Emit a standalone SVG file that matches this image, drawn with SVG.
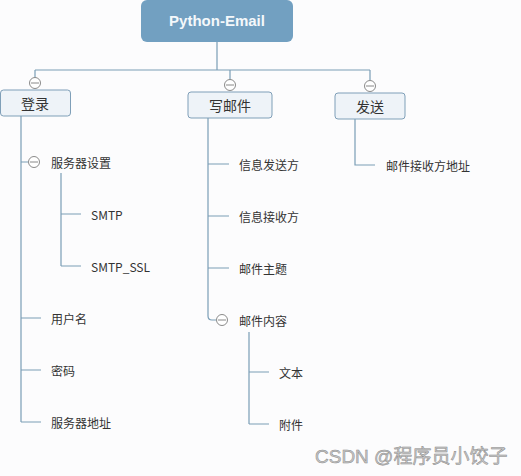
<svg xmlns="http://www.w3.org/2000/svg" width="521" height="476" viewBox="0 0 521 476">
<style>
.ln{fill:none;stroke:#7a9db6;stroke-width:1.2}
.cir{fill:#fff;stroke:#8a8a8a;stroke-width:1}
.box{fill:#eef3f8;stroke:#7f9fb8;stroke-width:1}
.t{font-family:"Noto Sans CJK SC","Liberation Sans",sans-serif;font-size:12px;fill:#333;dominant-baseline:central}
.tb{font-family:"Noto Sans CJK SC","Liberation Sans",sans-serif;font-size:14px;fill:#333;text-anchor:middle;dominant-baseline:central}
</style>
<rect width="521" height="476" fill="#fcfcfd"/>
<g id="connectors">
<path class="ln" d="M217 42V70M35 70H370M35 70V78M230 70V80M370 70V80"/>
<path class="ln" d="M21 116V422M21 162H28M21 318H41M21 370H41M21 422H41"/>
<path class="ln" d="M61 173V266M61 214H81M61 266H81"/>
<path class="ln" d="M208 118V316Q208 320 212 320H216M208 164H229M208 216H229M208 268H229"/>
<path class="ln" d="M249 332V424M249 372H269M249 424H269"/>
<path class="ln" d="M355 119V165H375"/>
</g>
<g id="root">
<rect x="141" y="0" width="152" height="42" rx="6" fill="#72a0c1"/>
<text x="217" y="20" font-family="Liberation Sans,sans-serif" font-size="15" font-weight="bold" fill="#f4f8fb" text-anchor="middle" dominant-baseline="central">Python-Email</text>
</g>
<g id="login">
<circle class="cir" cx="35" cy="83" r="5.5"/><path d="M31 83H39" stroke="#888" stroke-width="1"/>
<rect class="box" x="0.5" y="90" width="70" height="26" rx="3"/>
<text class="tb" x="35" y="103">登录</text>
</g>
<g id="write">
<circle class="cir" cx="230" cy="85" r="5.5"/><path d="M226 85H234" stroke="#888" stroke-width="1"/>
<rect class="box" x="188" y="92" width="84" height="26" rx="3"/>
<text class="tb" x="230" y="105">写邮件</text>
</g>
<g id="send">
<circle class="cir" cx="370" cy="86" r="5.5"/><path d="M366 86H374" stroke="#888" stroke-width="1"/>
<rect class="box" x="335" y="93" width="70" height="26" rx="3"/>
<text class="tb" x="370" y="106">发送</text>
</g>
<g id="server-settings">
<circle class="cir" cx="34" cy="162" r="5.5"/><path d="M30 162H38" stroke="#888" stroke-width="1"/>
<text class="t" x="51" y="162">服务器设置</text>
</g>
<g id="smtp"><text class="t" x="91" y="214" font-family="Liberation Sans,sans-serif">SMTP</text></g>
<g id="smtp-ssl"><text class="t" x="91" y="266" font-family="Liberation Sans,sans-serif">SMTP_SSL</text></g>
<g id="username"><text class="t" x="51" y="318">用户名</text></g>
<g id="password"><text class="t" x="51" y="370">密码</text></g>
<g id="server-addr"><text class="t" x="51" y="422">服务器地址</text></g>
<g id="sender"><text class="t" x="239" y="164">信息发送方</text></g>
<g id="receiver"><text class="t" x="239" y="216">信息接收方</text></g>
<g id="subject"><text class="t" x="239" y="268">邮件主题</text></g>
<g id="content">
<circle class="cir" cx="222" cy="320" r="5.5"/><path d="M218 320H226" stroke="#888" stroke-width="1"/>
<text class="t" x="239" y="320">邮件内容</text>
</g>
<g id="text"><text class="t" x="279" y="372">文本</text></g>
<g id="attach"><text class="t" x="279" y="424">附件</text></g>
<g id="recv-addr"><text class="t" x="386" y="165">邮件接收方地址</text></g>
<text x="315" y="463" font-family="Liberation Sans,Noto Sans CJK SC,sans-serif" font-size="19" fill="#c8c8c8" stroke="#8a8a8a" stroke-width="0.5">CSDN @程序员小饺子</text>
</svg>
